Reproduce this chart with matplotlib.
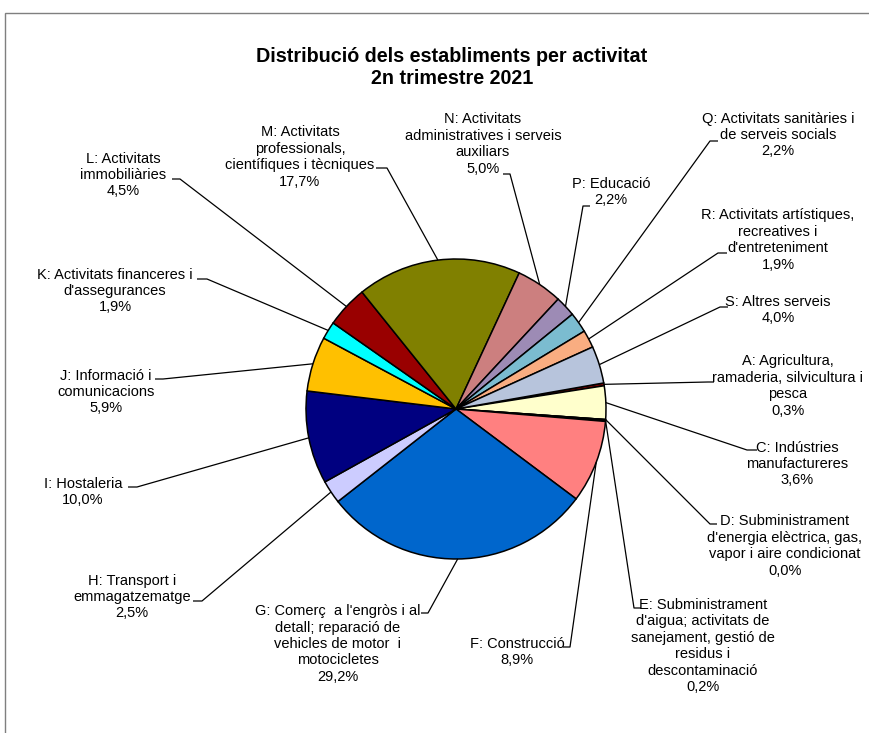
import numpy as np
import matplotlib.pyplot as plt
from matplotlib.patches import Rectangle

plt.rcParams["font.family"] = ["Liberation Sans", "DejaVu Sans"]

# data, clockwise from the A slice
codes = ["A", "C", "D", "E", "F", "G", "H", "I", "J", "K", "L", "M", "N", "P", "Q", "R", "S"]
labels = [
    "A: Agricultura,\nramaderia, silvicultura i\npesca",
    "C: Indústries\nmanufactureres",
    "D: Subministrament\nd'energia elèctrica, gas,\nvapor i aire condicionat",
    "E: Subministrament\nd'aigua; activitats de\nsanejament, gestió de\nresidus i\ndescontaminació",
    "F: Construcció",
    "G: Comerç  a l'engròs i al\ndetall; reparació de\nvehicles de motor  i\nmotocicletes",
    "H: Transport i\nemmagatzematge",
    "I: Hostaleria",
    "J: Informació i\ncomunicacions",
    "K: Activitats financeres i\nd'assegurances",
    "L: Activitats\nimmobiliàries",
    "M: Activitats\nprofessionals,\ncientífiques i tècniques",
    "N: Activitats\nadministratives i serveis\nauxiliars",
    "P: Educació",
    "Q: Activitats sanitàries i\nde serveis socials",
    "R: Activitats artístiques,\nrecreatives i\nd'entreteniment",
    "S: Altres serveis",
]
shares = [0.3, 3.6, 0.0, 0.2, 8.9, 29.2, 2.5, 10.0, 5.9, 1.9, 4.5, 17.7, 5.0, 2.2, 2.2, 1.9, 4.0]
colors = ["#800000", "#FFFFCC", "#000000", "#000000", "#FF8080", "#0066CC", "#CCCCFF",
          "#000080", "#FFC000", "#00FFFF", "#990000", "#808000", "#CC7F7F", "#9D8BB5",
          "#7BBCD0", "#F9AD81", "#B7C4DC"]

# label layout in pixels: text centre, elbow of the leader, end of the short tick
text_pos = {
    "A": (788, 386), "C": (797, 464), "D": (785, 546), "E": (703, 646),
    "F": (517, 652), "G": (338, 644), "H": (132, 597), "I": (83, 492),
    "J": (106, 392), "K": (115, 291), "L": (123, 175), "M": (300, 157),
    "N": (483, 144), "P": (611, 192), "Q": (778, 135), "R": (778, 240),
    "S": (778, 310),
}
elbow = {
    "A": ((708, 382), (714, 382)), "C": ((747, 450), (757, 450)),
    "D": ((710, 524), (717, 524)), "E": ((634, 608), (641, 608)),
    "F": ((570, 647), (563, 647)), "G": ((428, 613), (421, 613)),
    "H": ((202, 601), (193, 601)), "I": ((137, 487), (128, 487)),
    "J": ((163, 379), (155, 379)), "K": ((207, 279), (197, 279)),
    "L": ((180, 179), (172, 179)), "M": ((387, 168), (376, 168)),
    "N": ((510, 174), (503, 174)), "P": ((583, 206), (590, 206)),
    "Q": ((710, 141), (718, 141)), "R": ((718, 253), (727, 253)),
    "S": ((720, 307), (728, 307)),
}

W, H = 870, 733
fig = plt.figure(figsize=(W / 100, H / 100), dpi=100)
ax = fig.add_axes([0, 0, 1, 1])
ax.set_xlim(0, W)
ax.set_ylim(0, H)
ax.set_aspect("equal")
ax.axis("off")

def py(y):
    return H - y

# outer frame of the chart area
ax.add_patch(Rectangle((5.5, py(900)), 1000, 900 - 12.5, fill=False,
                       edgecolor="#7f7f7f", linewidth=1.0))

cx, cy, r = 456, py(409), 150
wedges, _ = ax.pie(shares, colors=colors, startangle=10, counterclock=False,
                   center=(cx, cy), radius=r, frame=True,
                   wedgeprops=dict(edgecolor="black", linewidth=1.1))
ax.set_xlim(0, W)
ax.set_ylim(0, H)
ax.axis("off")

for code, lab, val, w in zip(codes, labels, shares, wedges):
    mid = np.deg2rad((w.theta1 + w.theta2) / 2)
    ex, ey = cx + r * np.cos(mid), cy + r * np.sin(mid)
    (bx, by), (tx, ty) = elbow[code]
    ax.plot([ex, bx, tx], [ey, py(by), py(ty)], color="black", lw=0.9,
            solid_capstyle="butt")
    x, y = text_pos[code]
    pct = f"{val:.1f}".replace(".", ",") + "%"
    ax.text(x, py(y), lab + "\n" + pct, ha="center", va="center",
            multialignment="center", fontsize=10.5, linespacing=1.22)

ax.text(452, py(67), "Distribució dels establiments per activitat\n2n trimestre 2021",
        ha="center", va="center", fontsize=14.2, fontweight="bold", linespacing=1.2)

fig.savefig("out.png", dpi=100)
